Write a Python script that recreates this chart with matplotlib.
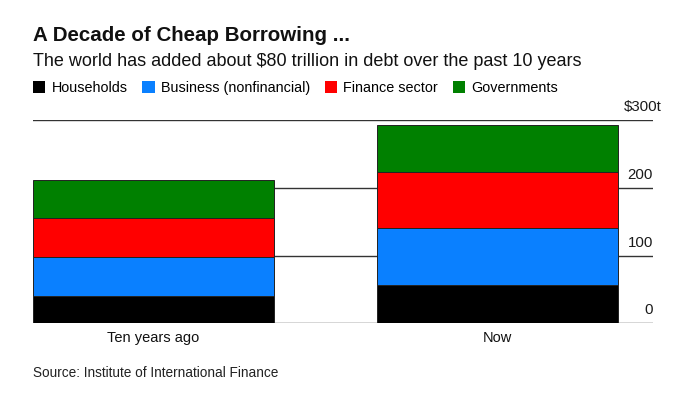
import matplotlib
matplotlib.use("Agg")
import matplotlib.pyplot as plt
from matplotlib.patches import Patch
import matplotlib.transforms as mtransforms

plt.rcParams['font.family'] = ['Liberation Sans', 'DejaVu Sans']

# ---- data ----
categories = ["Ten years ago", "Now"]
series_names = ["Households", "Business (nonfinancial)", "Finance sector", "Governments"]
households = [41, 57]
business = [57, 84]
finance = [57, 83]
governments = [57, 68]
colors = ["#000000", "#0a80ff", "#ff0000", "#008000"]
yticks = [0, 100, 200, 300]
ytick_labels = ["0", "100", "200", "$300t"]

fig = plt.figure(figsize=(7.0, 3.94), dpi=100)
W, H = 700, 394
left_px, right_px = 32.7, 653
bottom_px, top_px = 323.3, 120
ax = fig.add_axes([left_px / W, 1 - bottom_px / H, (right_px - left_px) / W, (bottom_px - top_px) / H])

x = [0, 1]
width = 0.7
bottoms = [0, 0]
for vals, c in zip([households, business, finance, governments], colors):
    ax.bar(x, vals, width=width, bottom=bottoms, color=c, edgecolor="#222222",
           linewidth=0.7, zorder=3)
    bottoms = [b + v for b, v in zip(bottoms, vals)]

ax.set_xlim(-0.35, 1.452)
ax.set_ylim(0, 300)
for s in ax.spines.values():
    s.set_visible(False)
ax.set_xticks([])
ax.set_yticks([])
for yv in yticks:
    ax.axhline(yv, color="#333333", linewidth=1.0, zorder=1)

trans = mtransforms.blended_transform_factory(ax.transAxes, ax.transData)
off = mtransforms.ScaledTranslation(0, 6 / 100, fig.dpi_scale_trans)
off_unit = mtransforms.ScaledTranslation(9 / 100, 6 / 100, fig.dpi_scale_trans)
for yv, lab in zip(yticks, ytick_labels):
    t = off_unit if lab.startswith("$") else off
    ax.text(1.0, yv, lab, ha="right", va="bottom", fontsize=10.8,
            color="#1a1a1a", transform=trans + t)

for xi, cat in zip(x, categories):
    ax.text(xi, -12, cat, ha="center", va="top", fontsize=10.5, color="#111111",
            transform=ax.transData)

fig.text(33 / W, 1 - 41 / H, "A Decade of Cheap Borrowing ...", fontsize=14.8,
         fontweight="bold", ha="left", va="baseline", color="#111111")
fig.text(33 / W, 1 - 66 / H, "The world has added about $80 trillion in debt over the past 10 years",
         fontsize=13.0, ha="left", va="baseline", color="#111111")
fig.text(33 / W, 1 - 377 / H, "Source: Institute of International Finance",
         fontsize=9.8, ha="left", va="baseline", color="#222222")

handles = [Patch(facecolor=c, edgecolor="none") for c in colors]
fig.legend(handles, series_names, loc="upper left", bbox_to_anchor=(33 / W, 1 - 81 / H),
           ncol=4, frameon=False, fontsize=10.4, handlelength=0.85, handleheight=0.85,
           handletextpad=0.45, columnspacing=1.0, borderpad=0, borderaxespad=0)

fig.savefig("out.png", dpi=100, facecolor="white")
